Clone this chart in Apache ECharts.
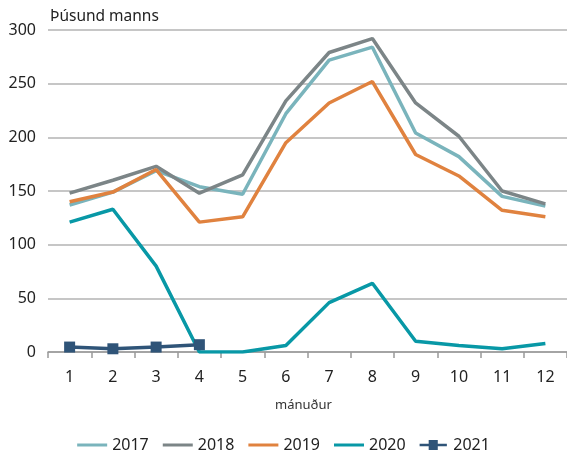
<!DOCTYPE html>
<html>
<head>
<meta charset="utf-8">
<script src="https://cdn.jsdelivr.net/npm/echarts@6/dist/echarts.min.js"></script>
<style>
  html, body { margin: 0; padding: 0; background: #fff; }
  #main { width: 567px; height: 456px; }
</style>
</head>
<body>
<div id="main"></div>
<script>
var months = ['1', '2', '3', '4', '5', '6', '7', '8', '9', '10', '11', '12'];
var y2017 = [137, 149, 169, 154, 147, 222, 272, 284, 204, 182, 145, 136];
var y2018 = [148, 160, 173, 148, 165, 234, 279, 292, 232, 201, 150, 138];
var y2019 = [140, 149, 170, 121, 126, 195, 232, 252, 184, 164, 132, 126];
var y2020 = [121, 133, 80, 0, 0, 6, 46, 64, 10, 6, 3, 8];
var y2021 = [4.6, 3, 4.6, 6.8];

var font = 'Noto Sans';

function line(name, data, color) {
    return {
        name: name,
        type: 'line',
        data: data,
        symbol: 'none',
        lineStyle: { color: color, width: 3.5 },
        itemStyle: { color: color },
        emphasis: { disabled: true }
    };
}

var myChart = echarts.init(document.getElementById('main'));
var option = {
    animation: false,
    textStyle: { fontFamily: font },
    title: {
        text: 'Þúsund manns',
        left: 45,
        top: 4,
        textStyle: { fontSize: 15.5, fontWeight: 'normal', color: '#222', fontFamily: font }
    },
    legend: {
        bottom: -2,
        left: 'center',
        itemWidth: 30,
        itemHeight: 10,
        itemGap: 14,
        textStyle: { fontSize: 16, color: '#222', fontFamily: font },
        data: [
            { name: '2017', icon: 'path://M0,4L30,4L30,7L0,7Z' },
            { name: '2018', icon: 'path://M0,4L30,4L30,7L0,7Z' },
            { name: '2019', icon: 'path://M0,4L30,4L30,7L0,7Z' },
            { name: '2020', icon: 'path://M0,4L30,4L30,7L0,7Z' },
            { name: '2021', icon: 'path://M0,4L10,4L10,0L20,0L20,4L30,4L30,7L20,7L20,11L10,11L10,7L0,7Z' }
        ]
    },
    grid: {
        left: 48,
        right: -4,
        top: 30,
        bottom: 104,
        containLabel: false
    },
    xAxis: {
        type: 'category',
        data: months,
        boundaryGap: true,
        name: 'mánuður',
        nameLocation: 'middle',
        nameGap: 47,
        nameTextStyle: { fontSize: 13, color: '#333', fontFamily: font, padding: [0, 8, 0, 0] },
        axisLine: { lineStyle: { color: '#999', width: 1.5 } },
        axisTick: { show: true, length: 6, alignWithLabel: false, lineStyle: { color: '#999', width: 1.5 } },
        axisLabel: { fontSize: 16, color: '#222', margin: 17, fontFamily: font }
    },
    yAxis: {
        type: 'value',
        min: 0,
        max: 300,
        interval: 50,
        axisLine: { show: false },
        axisTick: { show: false },
        axisLabel: { fontSize: 16, color: '#222', margin: 12, fontFamily: font },
        splitLine: { lineStyle: { color: '#b3b3b3', width: 1.5 } }
    },
    series: [
        line('2017', y2017, '#7ab4bc'),
        line('2018', y2018, '#7c8587'),
        line('2019', y2019, '#e0823f'),
        line('2020', y2020, '#0898a6'),
        {
            name: '2021',
            type: 'line',
            data: y2021,
            symbol: 'rect',
            symbolSize: 11,
            lineStyle: { color: '#2f5478', width: 3.5 },
            itemStyle: { color: '#2f5478' },
            emphasis: { disabled: true }
        }
    ]
};
myChart.setOption(option);
window.onresize = function () {
    myChart.resize();
};
</script>
</body>
</html>
